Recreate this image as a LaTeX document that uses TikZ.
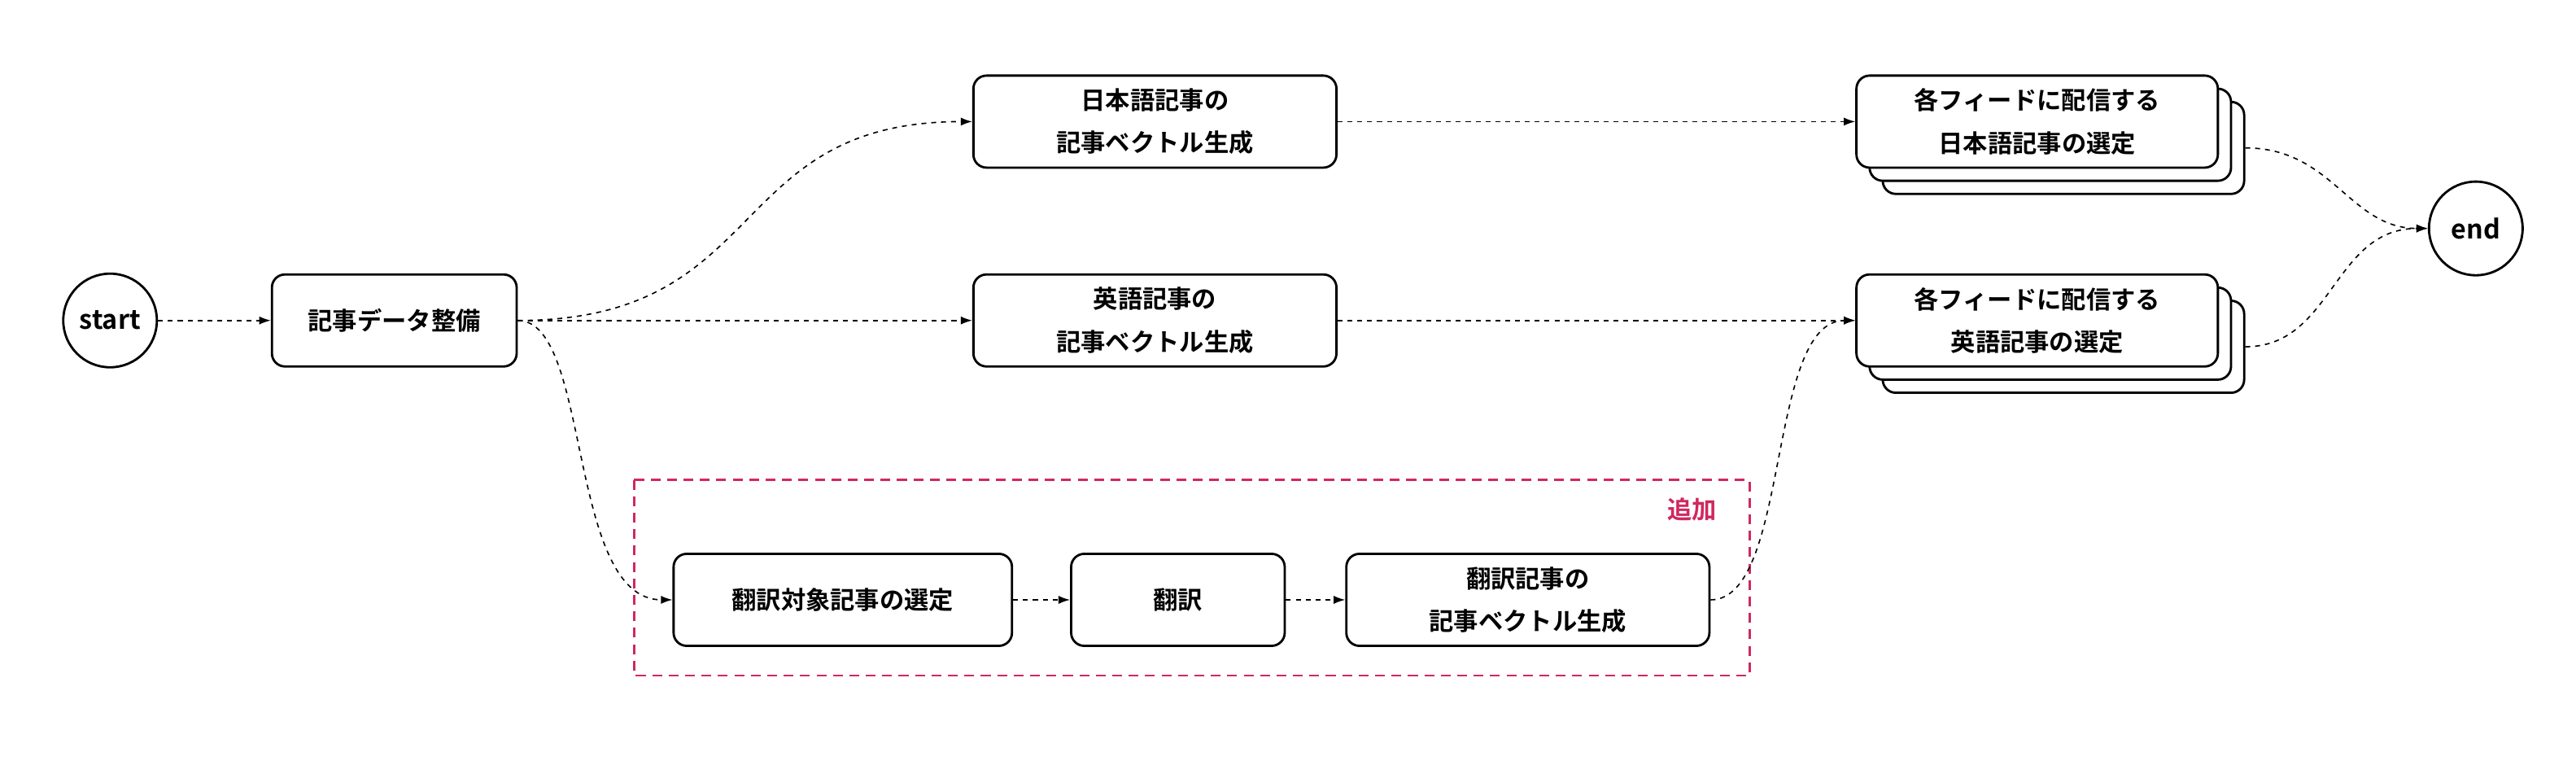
\documentclass[tikz,border=0pt]{standalone}
\usepackage{fontspec}
\setmainfont{Noto Sans CJK JP}[BoldFont={Noto Sans CJK JP Bold}]
\usetikzlibrary{arrows.meta}
\definecolor{crim}{HTML}{D0285F}
\begin{document}
\begin{tikzpicture}[x=1pt,y=-1pt,
 box/.style={draw,line width=1.4pt,rounded corners=8pt,align=center,font=\fontsize{15}{26}\selectfont\bfseries,inner sep=0pt},
 circ/.style={draw,circle,line width=1.4pt,minimum size=57pt,inner sep=0pt,font=\fontsize{16}{20}\selectfont\bfseries},
 con/.style={dashed,line width=0.8pt,dash pattern=on 3pt off 3pt,-{Latex[length=7pt,width=5pt]}},
 stk/.style={draw,fill=white,line width=1.4pt,rounded corners=8pt,minimum width=220pt,minimum height=56pt}]
\useasboundingbox (0,0) rectangle (1568,463);
\draw[crim,line width=1.2pt,dash pattern=on 6pt off 4pt] (386,292) rectangle (1065,411);
\node[crim,font=\fontsize{15}{18}\selectfont\bfseries] (add) at (1030,310) {追加};
\node[circ] (start) at (67,195) {start};
\node[circ] (end) at (1507,139) {end};
\node[box,minimum width=149pt,minimum height=56pt] (prep) at (240,195) {記事データ整備};
\node[box,minimum width=221pt,minimum height=56pt] (jpv) at (703,74) {日本語記事の\\記事ベクトル生成};
\node[box,minimum width=221pt,minimum height=56pt] (env) at (703,195) {英語記事の\\記事ベクトル生成};
\foreach \n/\y in {jb/74,eb/195}{
 \node[stk] (\n2) at (1256,\y+16) {};
 \node[stk] (\n1) at (1248,\y+8) {};}
\node[box,fill=white,minimum width=220pt,minimum height=56pt] (jps) at (1240,74) {各フィードに配信する\\日本語記事の選定};
\node[box,fill=white,minimum width=220pt,minimum height=56pt] (ens) at (1240,195) {各フィードに配信する\\英語記事の選定};
\node[box,minimum width=206pt,minimum height=56pt] (sel) at (513,365) {翻訳対象記事の選定};
\node[box,minimum width=130pt,minimum height=56pt] (tr) at (717,365) {翻訳};
\node[box,minimum width=221pt,minimum height=56pt] (trv) at (930,365) {翻訳記事の\\記事ベクトル生成};
\draw[con] (start) -- (prep);
\draw[con] (prep.east) .. controls (470,195) and (440,74) .. (jpv.west);
\draw[con] (prep) -- (env);
\draw[con] (prep.east) .. controls (360,195) and (345,365) .. (sel.west);
\draw[con] (sel) -- (tr);
\draw[con] (tr) -- (trv);
\draw[con] (jpv) -- (jps);
\draw[con] (env) -- (ens);
\draw[con] (trv.east) .. controls (1090,365) and (1075,195) .. (ens.west);
\draw[con] (jb2.east) .. controls (1420,90) and (1430,139) .. (end.west);
\draw[con] (eb2.east) .. controls (1420,211) and (1420,139) .. (end.west);
\end{tikzpicture}
\end{document}
